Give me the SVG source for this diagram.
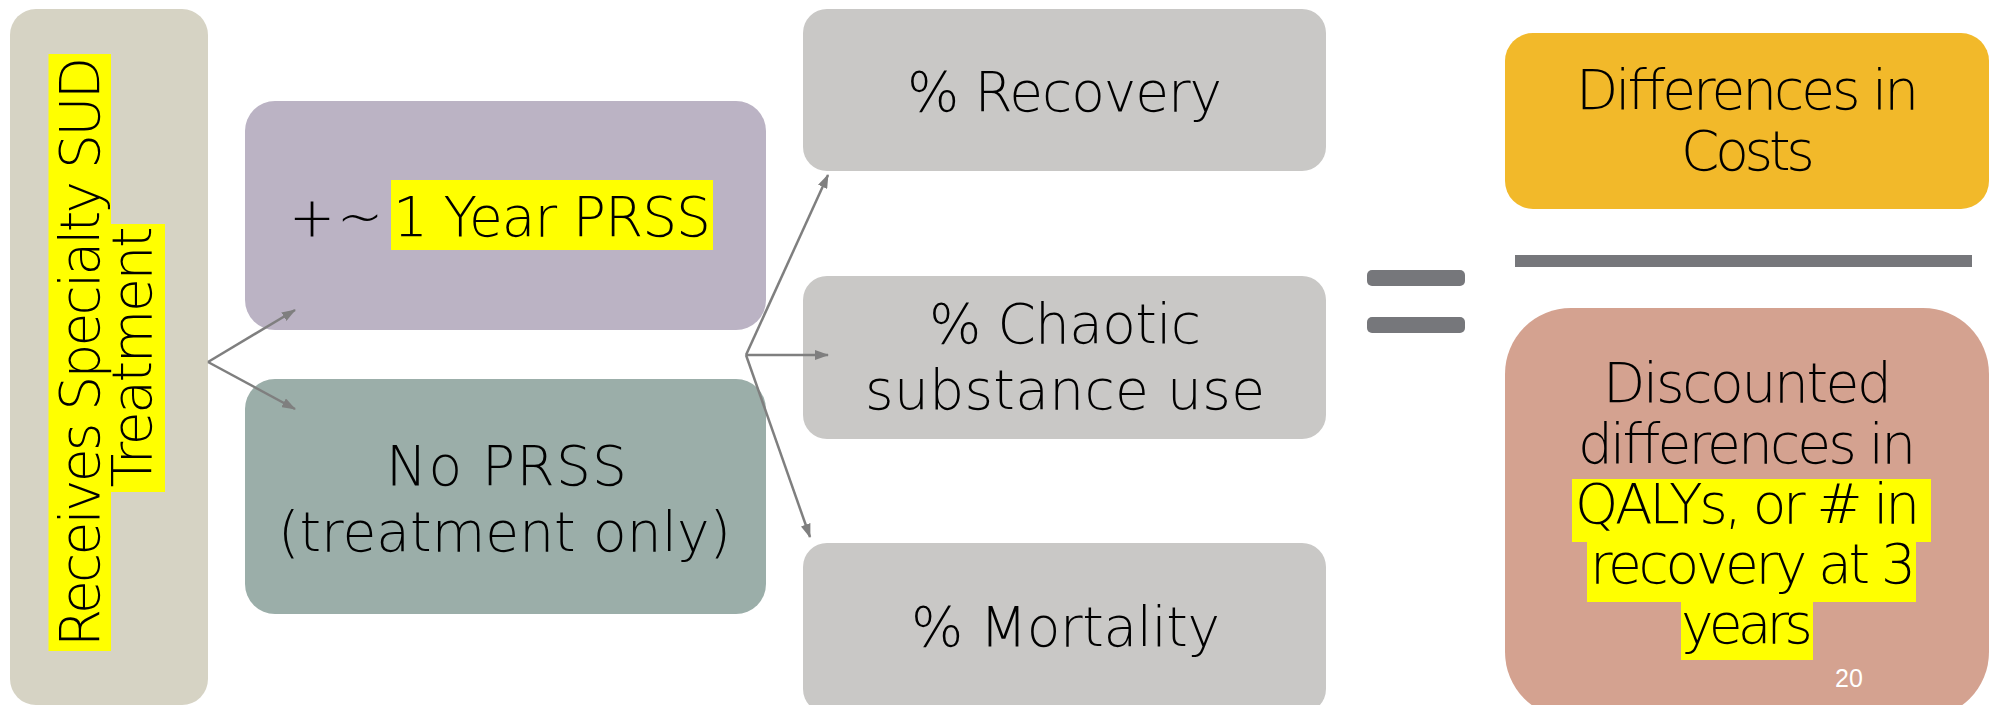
<svg xmlns="http://www.w3.org/2000/svg" width="2003" height="705" viewBox="0 0 2003 705">
<defs>
<style>
.t{font-family:"DejaVu Sans","Open Sans",sans-serif;font-weight:200;font-size:55px;fill:#000;text-anchor:middle}
.s{text-anchor:start}
.hl{fill:#FFFF00}
.c{stroke:#7F7F7F;stroke-width:2.5;fill:none}
.bar{fill:#76777B}
</style>
<marker id="ah" viewBox="0 0 14 10" refX="13" refY="5" markerWidth="14" markerHeight="10" markerUnits="userSpaceOnUse" orient="auto">
<path d="M0,0 L14,5 L0,10 z" fill="#7F7F7F"/>
</marker>
</defs>
<rect width="2003" height="705" fill="#FFFFFF"/>

<g id="node-receives">
<rect x="10" y="9" width="198" height="696" rx="26" fill="#D6D3C4"/>
<rect class="hl" x="48.5" y="54" width="62.5" height="597"/>
<rect class="hl" x="111" y="224" width="54" height="268"/>
<text class="t" transform="translate(99,352) rotate(-90)" textLength="590" lengthAdjust="spacing">Receives Specialty SUD</text>
<text class="t" transform="translate(151,357) rotate(-90)" textLength="261" lengthAdjust="spacing">Treatment</text>
</g>

<g id="node-prss">
<rect x="245" y="101" width="521" height="229" rx="30" fill="#BBB3C4"/>
<rect class="hl" x="391" y="180" width="322" height="70"/>
<text class="t" x="312" y="236">+</text>
<text class="t" x="360" y="236">~</text>
<text class="t s" x="393" y="236" textLength="318" lengthAdjust="spacing">1 Year PRSS</text>
</g>

<g id="node-noprss">
<rect x="245" y="379" width="521" height="235" rx="30" fill="#9BAEA9"/>
<text class="t" x="506.5" y="485" textLength="241" lengthAdjust="spacing">No PRSS</text>
<text class="t" x="504.5" y="551" textLength="453" lengthAdjust="spacing">(treatment only)</text>
</g>

<g id="node-recovery">
<rect x="803" y="9" width="523" height="162" rx="24" fill="#C9C8C6"/>
<text class="t" x="1064.5" y="111" textLength="315" lengthAdjust="spacing">% Recovery</text>
</g>

<g id="node-chaotic">
<rect x="803" y="276" width="523" height="163" rx="24" fill="#C9C8C6"/>
<text class="t" x="1065" y="343" textLength="272" lengthAdjust="spacing">% Chaotic</text>
<text class="t" x="1065" y="409" textLength="400" lengthAdjust="spacing">substance use</text>
</g>

<g id="node-mortality">
<rect x="803" y="543" width="523" height="170" rx="24" fill="#C9C8C6"/>
<text class="t" x="1065.5" y="646" textLength="309" lengthAdjust="spacing">% Mortality</text>
</g>

<g id="node-equals">
<rect class="bar" x="1367" y="270" width="98" height="16" rx="5"/>
<rect class="bar" x="1367" y="317" width="98" height="16" rx="5"/>
</g>

<g id="node-costs">
<rect x="1505" y="33" width="484" height="176" rx="28" fill="#F2B92A"/>
<text class="t" x="1747.5" y="109" textLength="343" lengthAdjust="spacing">Differences in</text>
<text class="t" x="1748" y="170" textLength="134" lengthAdjust="spacing">Costs</text>
</g>

<g id="node-fraction">
<rect class="bar" x="1515" y="255" width="457" height="12"/>
</g>

<g id="node-qalys">
<rect x="1505" y="308" width="484" height="410" rx="66" fill="#D4A290"/>
<rect class="hl" x="1572" y="479" width="359" height="63"/>
<rect class="hl" x="1587" y="542" width="329" height="60"/>
<rect class="hl" x="1681" y="602" width="132" height="58"/>
<text class="t" x="1747.5" y="402" textLength="289" lengthAdjust="spacing">Discounted</text>
<text class="t" x="1747" y="463" textLength="338" lengthAdjust="spacing">differences in</text>
<text class="t" x="1747.5" y="523" textLength="345" lengthAdjust="spacing">QALYs, or # in</text>
<text class="t" x="1753" y="583" textLength="326" lengthAdjust="spacing">recovery at 3</text>
<text class="t" x="1747" y="643" textLength="132" lengthAdjust="spacing">years</text>
<text x="1849" y="687" font-family="Liberation Sans, Arial, sans-serif" font-size="25" fill="#FFFFFF" text-anchor="middle">20</text>
</g>

<g id="connectors">
<line class="c" x1="208" y1="362" x2="295" y2="310" marker-end="url(#ah)"/>
<line class="c" x1="208" y1="362" x2="295" y2="409" marker-end="url(#ah)"/>
<line class="c" x1="746" y1="355" x2="828" y2="175" marker-end="url(#ah)"/>
<line class="c" x1="746" y1="355" x2="828" y2="355" marker-end="url(#ah)"/>
<line class="c" x1="746" y1="355" x2="810" y2="537" marker-end="url(#ah)"/>
</g>
</svg>
